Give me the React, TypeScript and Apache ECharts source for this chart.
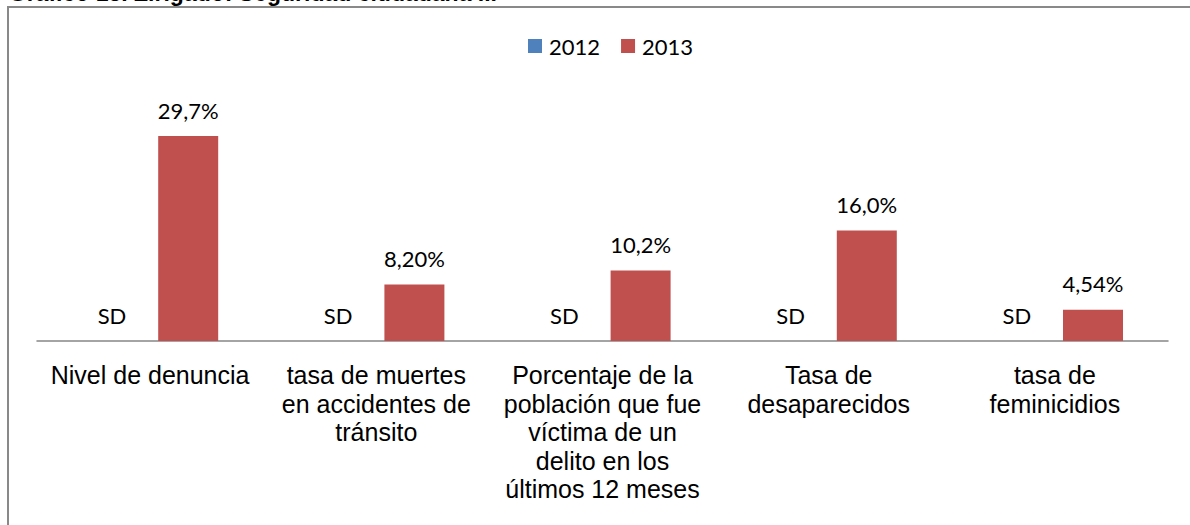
import React, { useEffect, useRef } from "react";
import * as echarts from "echarts";

const categories = [
  "Nivel de denuncia",
  "tasa de muertes\nen accidentes de\ntránsito",
  "Porcentaje de la\npoblación que fue\nvíctima de un\ndelito en los\núltimos 12 meses",
  "Tasa de\ndesaparecidos",
  "tasa de\nfeminicidios",
];
const seriesNames = ["2012", "2013"];
const values2012 = [0, 0, 0, 0, 0];
const labels2012 = ["SD", "SD", "SD", "SD", "SD"];
const values2013 = [29.7, 8.2, 10.2, 16.0, 4.54];
const labels2013 = ["29,7%", "8,20%", "10,2%", "16,0%", "4,54%"];
const titleText = "Gráfico 13. Zirigado: Seguridad ciudadana ...";

export default function App() {
  const ref = useRef<HTMLDivElement>(null);
  useEffect(() => {
    if (!ref.current) return;
    const chart = echarts.init(ref.current, null, { renderer: "svg" });
    const labelFont = { fontFamily: "Lato", fontSize: 22, color: "#000" };
    chart.setOption({
      animation: false,
      backgroundColor: "#fff",
      graphic: [
        {
          type: "rect",
          shape: { x: 8, y: 7, width: 1400, height: 800 },
          style: { fill: "none", stroke: "#898989", lineWidth: 2 },
          silent: true,
        },
        {
          type: "text",
          right: 693,
          top: -19,
          style: {
            text: titleText,
            font: "bold 23px 'Liberation Sans', Arial, sans-serif",
            fill: "#000",
          },
        },
      ],
      legend: {
        data: seriesNames,
        left: 523,
        top: 30,
        itemWidth: 14,
        itemHeight: 14,
        itemGap: 21,
        icon: "rect",
        textStyle: { ...labelFont, lineHeight: 22, padding: [0, 0, 0, 2] },
      },
      grid: { left: 37, right: 22, top: 134, bottom: 184 },
      xAxis: {
        type: "category",
        data: categories,
        axisTick: { show: false },
        axisLine: { lineStyle: { color: "#868686", width: 1.5 } },
        axisLabel: {
          interval: 0,
          margin: 20,
          fontFamily: "'Liberation Sans', Arial, sans-serif",
          fontSize: 25,
          lineHeight: 28.5,
          color: "#000",
          align: "center",
        },
      },
      yAxis: {
        type: "value",
        min: 0,
        max: 30,
        show: false,
        splitLine: { show: false },
      },
      series: [
        {
          name: seriesNames[0],
          type: "bar",
          data: values2012,
          barWidth: 60,
          barGap: "27%",
          itemStyle: { color: "#4F81BD" },
          label: {
            show: true,
            position: "top",
            distance: 15,
            ...labelFont,
            formatter: (p: any) => labels2012[p.dataIndex],
          },
        },
        {
          name: seriesNames[1],
          type: "bar",
          data: values2013,
          barWidth: 60,
          barGap: "27%",
          itemStyle: { color: "#C0504D" },
          label: {
            show: true,
            position: "top",
            distance: 15,
            ...labelFont,
            formatter: (p: any) => labels2013[p.dataIndex],
          },
        },
      ],
    });
    return () => chart.dispose();
  }, []);
  return (
    <div
      ref={ref}
      style={{ position: "fixed", left: 0, top: 0, width: 1190, height: 525 }}
    />
  );
}
